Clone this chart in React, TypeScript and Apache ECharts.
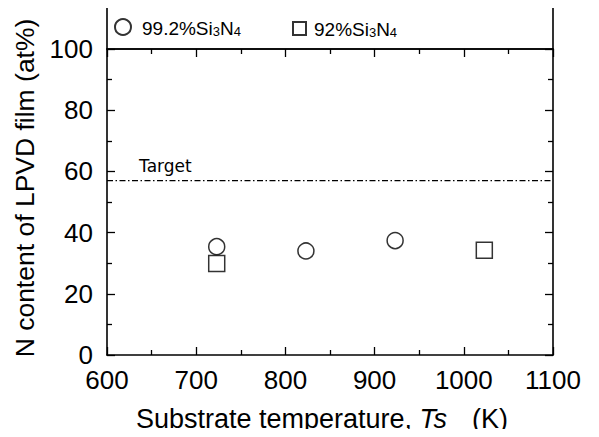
import React, { useEffect, useRef } from "react";
import * as echarts from "echarts";

const xMin = 600;
const xMax = 1100;
const xStep = 100;
const yMin = 0;
const yMax = 100;
const yStep = 20;

const seriesNames = ["99.2%Si3N4", "92%Si3N4"];
const circleTemps = [723, 823, 923];
const circleN = [35.4, 34.0, 37.4];
const squareTemps = [723, 1023];
const squareN = [29.9, 34.2];
const targetX = [600, 1100];
const targetN = 57;
const targetLabel = "Target";
const targetLabelX = 636;

const xAxisTitle = ["Substrate temperature, ", "Ts", "(K)"];
const yAxisTitle = "N content of LPVD film (at%)";

const FONT = "'Liberation Sans', Arial, Helvetica, sans-serif";

const legendRich = {
  n: { fontFamily: FONT, fontSize: 19, color: "#000", lineHeight: 21, verticalAlign: "bottom" as const },
  s: { fontFamily: FONT, fontSize: 13, color: "#000", lineHeight: 13, verticalAlign: "bottom" as const },
};

const legendFormatter = (name: string) => {
  const m = name.match(/^(.*Si)3N4$/);
  if (!m) return name;
  return `{n|${m[1]}}{s|3}{n|N}{s|4}`;
};

export default function App() {
  const ref = useRef<HTMLDivElement>(null);

  useEffect(() => {
    if (!ref.current) return;
    const chart = echarts.init(ref.current, null, { renderer: "svg" });

    const tickLine = { color: "#000", width: 1.3 };
    const axisBase = {
      axisLine: { show: true, onZero: false, lineStyle: { color: "#000", width: 1.6 } },
      axisTick: { show: true, inside: true, length: 8, lineStyle: tickLine },
      minorTick: { show: true, splitNumber: 2, length: 5, lineStyle: tickLine },
      splitLine: { show: false },
    };

    chart.setOption({
      animation: false,
      backgroundColor: "#fff",
      grid: { left: 107, right: 46, top: 49, bottom: 80, containLabel: false },
      legend: [
        {
          data: [seriesNames[0]],
          left: 114,
          top: 18,
          padding: 0,
          itemWidth: 16,
          itemHeight: 16,
          selectedMode: false,
          formatter: legendFormatter,
          textStyle: { fontFamily: FONT, fontSize: 19, color: "#000", padding: [0, 0, 0, 6], rich: legendRich },
        },
        {
          data: [seriesNames[1]],
          left: 292,
          top: 20,
          padding: 0,
          itemWidth: 13,
          itemHeight: 13,
          selectedMode: false,
          formatter: legendFormatter,
          textStyle: { fontFamily: FONT, fontSize: 19, color: "#000", padding: [0, 0, 0, 3], rich: legendRich },
        },
      ],
      xAxis: [
        {
          type: "value",
          min: xMin,
          max: xMax,
          interval: xStep,
          position: "bottom",
          ...axisBase,
          axisLabel: {
            show: true,
            fontFamily: FONT,
            fontSize: 26,
            lineHeight: 22,
            color: "#000",
            margin: 14,
            formatter: (v: number) => String(v),
          },
          name: `{a|${xAxisTitle[0]}}{i|${xAxisTitle[1]}}{b|${xAxisTitle[2]}}`,
          nameLocation: "middle",
          nameGap: 50,
          nameTextStyle: {
            padding: [0, 16, 0, 0],
            rich: {
              a: { fontFamily: FONT, fontSize: 27, color: "#000", fontWeight: "normal" },
              i: { fontFamily: FONT, fontSize: 27, color: "#000", fontStyle: "italic", fontWeight: "normal" },
              b: { fontFamily: FONT, fontSize: 27, color: "#000", fontWeight: "normal", padding: [0, 0, 0, 25] },
            },
          },
        },
        {
          type: "value",
          min: xMin,
          max: xMax,
          interval: xStep,
          position: "top",
          ...axisBase,
          axisLabel: { show: false },
        },
      ],
      yAxis: [
        {
          type: "value",
          min: yMin,
          max: yMax,
          interval: yStep,
          position: "left",
          ...axisBase,
          axisLabel: {
            show: true,
            fontFamily: FONT,
            fontSize: 26,
            lineHeight: 22,
            color: "#000",
            margin: 14,
            formatter: (v: number) => String(v),
          },
          name: yAxisTitle,
          nameLocation: "middle",
          nameGap: 62,
          nameTextStyle: {
            fontFamily: FONT,
            fontSize: 26.5,
            fontWeight: "normal",
            color: "#000",
            padding: [0, 0, 0, 28],
          },
        },
        {
          type: "value",
          min: yMin,
          max: yMax,
          interval: yStep,
          position: "right",
          ...axisBase,
          axisLabel: { show: false },
        },
      ],
      series: [
        {
          name: seriesNames[0],
          type: "scatter",
          symbol: "circle",
          symbolSize: 16,
          itemStyle: { color: "#fff", borderColor: "#000", borderWidth: 1.5 },
          data: circleTemps.map((t, i) => [t, circleN[i]]),
          z: 5,
        },
        {
          name: seriesNames[1],
          type: "scatter",
          symbol: "rect",
          symbolSize: 16,
          itemStyle: { color: "#fff", borderColor: "#000", borderWidth: 1.5 },
          data: squareTemps.map((t, i) => [t, squareN[i]]),
          z: 5,
        },
        {
          name: "target",
          type: "line",
          symbol: "none",
          silent: true,
          lineStyle: { color: "#000", width: 1.4, type: [6, 2.5, 1.5, 2.5] },
          data: targetX.map((x) => [x, targetN]),
          z: 2,
        },
      ],
    });

    const tPos = chart.convertToPixel({ xAxisIndex: 0, yAxisIndex: 0 }, [targetLabelX, targetN]) as number[];
    const topLeft = chart.convertToPixel({ xAxisIndex: 0, yAxisIndex: 0 }, [xMin, yMax]) as number[];
    const topRight = chart.convertToPixel({ xAxisIndex: 0, yAxisIndex: 0 }, [xMax, yMax]) as number[];

    chart.setOption({
      graphic: [
        {
          type: "rect",
          shape: { x: topLeft[0], y: 2, width: topRight[0] - topLeft[0], height: topLeft[1] - 2 },
          style: { fill: "none", stroke: "#000", lineWidth: 1.6 },
          silent: true,
        },
        {
          type: "text",
          x: tPos[0],
          y: tPos[1] - 6,
          style: {
            text: targetLabel,
            fontFamily: "'DejaVu Sans', sans-serif",
            fontSize: 17,
            fill: "#000",
            textAlign: "left",
            textVerticalAlign: "bottom",
          },
          silent: true,
        },
      ],
    });

    return () => chart.dispose();
  }, []);

  return <div ref={ref} style={{ width: 599, height: 437, margin: -8 }} />;
}
